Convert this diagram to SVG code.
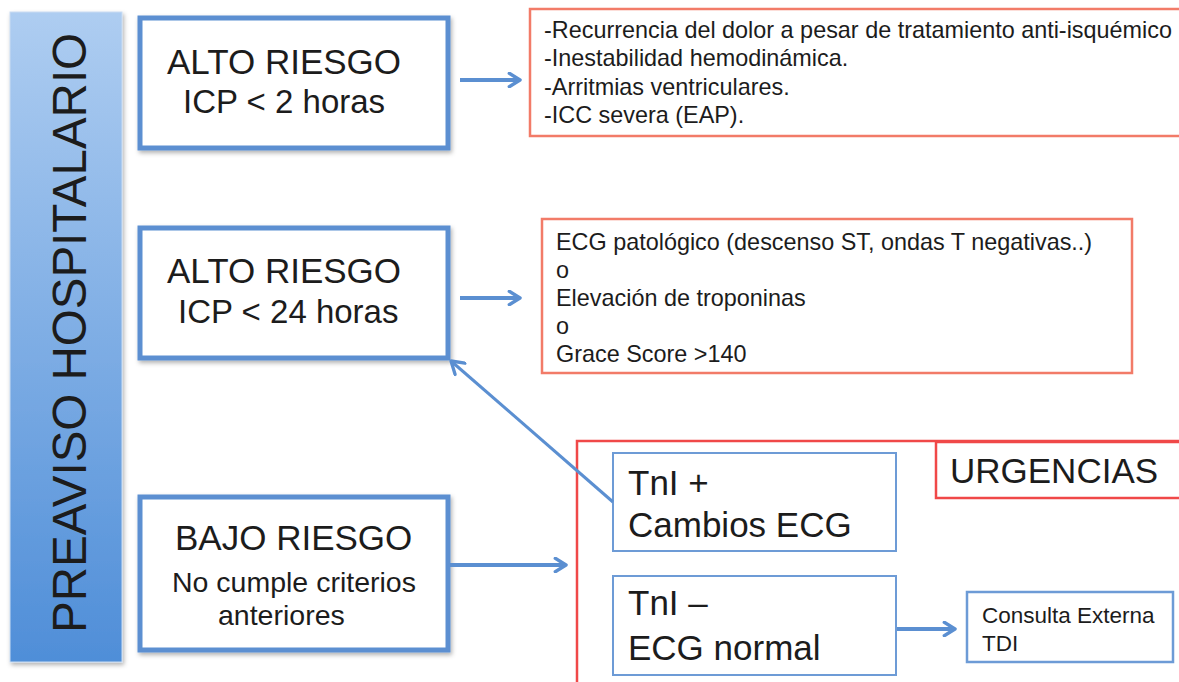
<svg xmlns="http://www.w3.org/2000/svg" width="1179" height="682" viewBox="0 0 1179 682">
<defs>
<linearGradient id="barGrad" x1="0" y1="0" x2="0" y2="1">
<stop offset="0" stop-color="#aecdf1"/>
<stop offset="1" stop-color="#4f8ed8"/>
</linearGradient>
<filter id="shadow" x="-10%" y="-10%" width="120%" height="130%">
<feDropShadow dx="1.5" dy="2.5" stdDeviation="2" flood-color="#000" flood-opacity="0.3"/>
</filter>
<marker id="chev" viewBox="0 0 12 12" refX="10" refY="6" markerWidth="4" markerHeight="4" orient="auto" markerUnits="strokeWidth">
<path d="M2,1 L10,6 L2,11" fill="none" stroke="#5b8fd1" stroke-width="2.6" stroke-linecap="round" stroke-linejoin="round"/>
</marker>
<marker id="chevThin" viewBox="0 0 12 12" refX="10" refY="6" markerWidth="6" markerHeight="6" orient="auto" markerUnits="strokeWidth">
<path d="M2,1 L10,6 L2,11" fill="none" stroke="#5b8fd1" stroke-width="2.2" stroke-linecap="round" stroke-linejoin="round"/>
</marker>
</defs>
<style>
text{font-family:"Liberation Sans",Arial,sans-serif;fill:#1c1c1c}
.big{font-size:35px}
.mid{font-size:33px}
.sub{font-size:28.5px}
.small{font-size:23.4px}
.tiny{font-size:22.5px}
.bluebox{fill:#fff;stroke:#5b8fd1;stroke-width:5}
.thinbox{fill:#fff;stroke:#6d9bd6;stroke-width:2}
.redbox{fill:#fff;stroke:#f27b68;stroke-width:2.5}
.urg{fill:#fff;stroke:#f04848;stroke-width:2.5}
.conn{fill:none;stroke:#5b8fd1;stroke-width:4}
</style>
<rect width="1179" height="682" fill="#fff"/>

<g id="preaviso">
<rect x="10" y="12" width="112" height="650" fill="url(#barGrad)" stroke="#c9dcf2" stroke-width="1" filter="url(#shadow)"/>
<text class="bar" transform="translate(86,333) rotate(-90)" text-anchor="middle" style="font-size:47.5px">PREAVISO HOSPITALARIO</text>
</g>

<g id="urgencias">
<rect class="urg" x="577" y="441" width="640" height="280"/>
</g>

<g id="alto-riesgo-2h">
<rect class="bluebox" x="140" y="18" width="308" height="130" filter="url(#shadow)"/>
<text class="big" x="167" y="74">ALTO RIESGO</text>
<text class="mid" x="183" y="113">ICP &lt; 2 horas</text>
</g>

<g id="criterios-2h">
<rect class="redbox" x="530" y="9" width="680" height="127"/>
<text class="small" x="544" y="38">-Recurrencia del dolor a pesar de tratamiento anti-isquémico</text>
<text class="small" x="544" y="66">-Inestabilidad hemodinámica.</text>
<text class="small" x="544" y="95">-Arritmias ventriculares.</text>
<text class="small" x="544" y="123">-ICC severa (EAP).</text>
</g>

<g id="alto-riesgo-24h">
<rect class="bluebox" x="140" y="228" width="308" height="130" filter="url(#shadow)"/>
<text class="big" x="167" y="283">ALTO RIESGO</text>
<text class="mid" x="178" y="323">ICP &lt; 24 horas</text>
</g>

<g id="criterios-24h">
<rect class="redbox" x="542" y="219" width="590" height="154"/>
<text class="small" x="556" y="250">ECG patológico (descenso ST, ondas T negativas..)</text>
<text class="small" x="556" y="278">o</text>
<text class="small" x="556" y="306">Elevación de troponinas</text>
<text class="small" x="556" y="334">o</text>
<text class="small" x="556" y="362">Grace Score &gt;140</text>
</g>

<g id="bajo-riesgo">
<rect class="bluebox" x="140" y="497" width="308" height="153" filter="url(#shadow)"/>
<text class="big" x="175" y="550">BAJO RIESGO</text>
<text class="sub" x="172" y="592">No cumple criterios</text>
<text class="sub" x="218" y="625">anteriores</text>
</g>

<g id="urgencias-label">
<rect class="urg" x="936" y="442" width="260" height="56"/>
<text class="big" x="950" y="483">URGENCIAS</text>
</g>

<g id="tni-pos">
<rect class="thinbox" x="613" y="453" width="283" height="98"/>
<text class="big" x="628" y="495">TnI +</text>
<text class="big" x="628" y="537">Cambios ECG</text>
</g>

<g id="tni-neg">
<rect class="thinbox" x="613" y="576" width="283" height="99"/>
<text class="big" x="628" y="615">TnI –</text>
<text class="big" x="628" y="660">ECG normal</text>
</g>

<g id="consulta">
<rect class="thinbox" x="967" y="592" width="206" height="70" style="stroke-width:2.5"/>
<text class="tiny" x="982" y="623">Consulta Externa</text>
<text class="tiny" x="982" y="651">TDI</text>
</g>

<g id="connectors">
<line class="conn" x1="460" y1="80" x2="520" y2="80" marker-end="url(#chev)"/>
<line class="conn" x1="460" y1="298" x2="520" y2="298" marker-end="url(#chev)"/>
<line class="conn" x1="450" y1="565" x2="566" y2="565" marker-end="url(#chev)"/>
<line class="conn" x1="897" y1="629" x2="955" y2="629" marker-end="url(#chev)"/>
<line class="conn" style="stroke-width:3" x1="613" y1="502" x2="451" y2="361" marker-end="url(#chevThin)"/>
</g>
</svg>
